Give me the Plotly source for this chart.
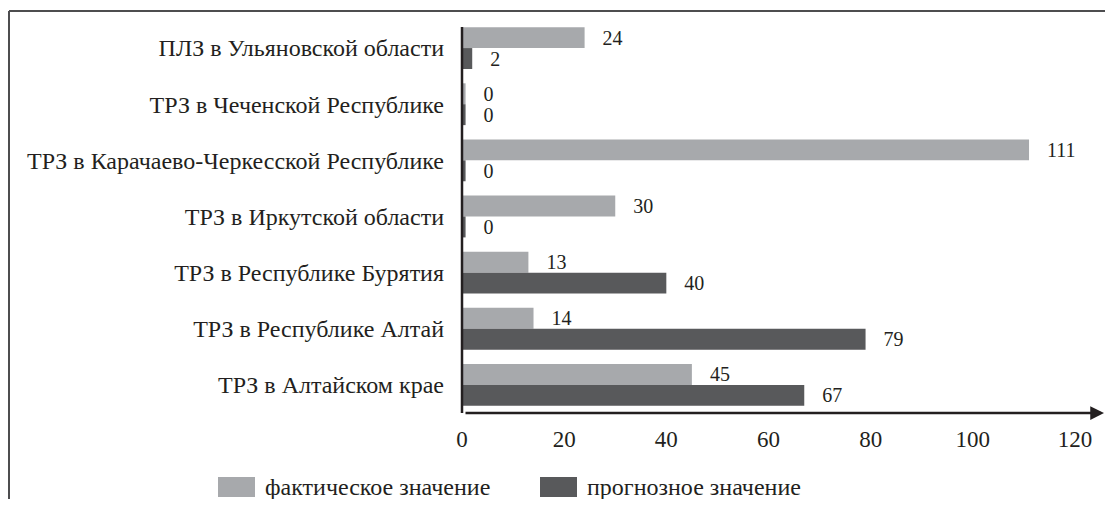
import plotly.graph_objects as go

categories = [
    "ПЛЗ в Ульяновской области",
    "ТРЗ в Чеченской Республике",
    "ТРЗ в Карачаево-Черкесской Республике",
    "ТРЗ в Иркутской области",
    "ТРЗ в Республике Бурятия",
    "ТРЗ в Республике Алтай",
    "ТРЗ в Алтайском крае",
]
actual = [24, 0, 111, 30, 13, 14, 45]
forecast = [2, 0, 0, 0, 40, 79, 67]
series_names = ["фактическое значение", "прогнозное значение"]
x_ticks = [0, 20, 40, 60, 80, 100, 120]

LIGHT = "#A7A9AC"
DARK = "#58595B"
INK = "#231F20"
FRAME = "#4D4D4F"
FONT = "Liberation Serif, Times New Roman, serif"
STUB = 0.7  # minimal visible stub for zero-valued bars
series_colors = [LIGHT, DARK]

# page has an 8px body margin on every side; work in page pixels and convert
OFF = 8
PAGE_W, PAGE_H = 1113, 507
W, H = PAGE_W - 2 * OFF, PAGE_H - 2 * OFF
PL, PR, PT, PB = 462, 1104, 20, 413   # plot area in page pixels
L, T = PL - OFF, PT - OFF
pw, ph = PR - PL, PB - PT
R, B = W - L - pw, H - T - ph
px_per_unit = 613 / 120.0
xmax = pw / px_per_unit


def px2paper_x(p):
    return (p - PL) / pw


def px2paper_y(p):
    return 1 - (p - PT) / ph


fig = go.Figure()
for name, vals, col in zip(series_names, [actual, forecast], series_colors):
    fig.add_trace(go.Bar(
        y=categories,
        x=[max(v, STUB) for v in vals],
        orientation="h",
        name=name,
        showlegend=False,
        marker=dict(color=col, line=dict(width=0)),
        text=[f"   {v}" for v in vals],
        textposition="outside",
        constraintext="none",
        textfont=dict(family=FONT, size=20, color=INK),
        cliponaxis=False,
        hoverinfo="skip",
    ))

shapes = [
    # outer frame (top and left edges)
    dict(type="line", xref="paper", yref="paper",
         x0=px2paper_x(9), x1=px2paper_x(PAGE_W + 5), y0=px2paper_y(11), y1=px2paper_y(11),
         line=dict(color=FRAME, width=2)),
    dict(type="line", xref="paper", yref="paper",
         x0=px2paper_x(9), x1=px2paper_x(9), y0=px2paper_y(11), y1=px2paper_y(PAGE_H + 5),
         line=dict(color=FRAME, width=2)),
    # y axis line
    dict(type="line", xref="paper", yref="paper",
         x0=0, x1=0, y0=px2paper_y(PB), y1=px2paper_y(27),
         line=dict(color=INK, width=2.5)),
]

annotations = [
    dict(x=xmax, y=0, xref="x", yref="paper", ax=-(pw - 2), ay=0,
         showarrow=True, arrowhead=2, arrowsize=1.1, arrowwidth=2.5,
         arrowcolor=INK, text="", standoff=0, startstandoff=0),
]

# legend (swatch + label) below the chart
LEG_X = [218, 540]
LEG_Y0, LEG_Y1 = 477, 497
SW_W = 37
for name, col, lx in zip(series_names, series_colors, LEG_X):
    shapes.append(dict(type="rect", xref="paper", yref="paper",
                       x0=px2paper_x(lx), x1=px2paper_x(lx + SW_W),
                       y0=px2paper_y(LEG_Y1), y1=px2paper_y(LEG_Y0),
                       fillcolor=col, line=dict(width=0)))
    annotations.append(dict(x=px2paper_x(lx + SW_W + 8), y=px2paper_y((LEG_Y0 + LEG_Y1) / 2),
                            xref="paper", yref="paper", xanchor="left", yanchor="middle",
                            text=name, showarrow=False,
                            font=dict(family=FONT, size=24, color=INK)))

fig.update_layout(
    width=W, height=H,
    margin=dict(l=L, r=R, t=T, b=B, pad=0, autoexpand=False),
    paper_bgcolor="white", plot_bgcolor="white",
    barmode="group", bargap=0.255, bargroupgap=0,
    font=dict(family=FONT, size=18, color=INK),
    showlegend=False,
    shapes=shapes,
    annotations=annotations,
    xaxis=dict(range=[0, xmax], tickvals=x_ticks, ticktext=[str(v) for v in x_ticks],
               showgrid=False, zeroline=False, showline=False, ticks="",
               ticklabelstandoff=10, tickfont=dict(family=FONT, size=23, color=INK),
               fixedrange=True),
    yaxis=dict(autorange="reversed", showgrid=False, zeroline=False, showline=False,
               ticks="", ticklabelstandoff=17,
               tickfont=dict(family=FONT, size=24, color=INK), fixedrange=True),
)

fig.write_html("out.html")
